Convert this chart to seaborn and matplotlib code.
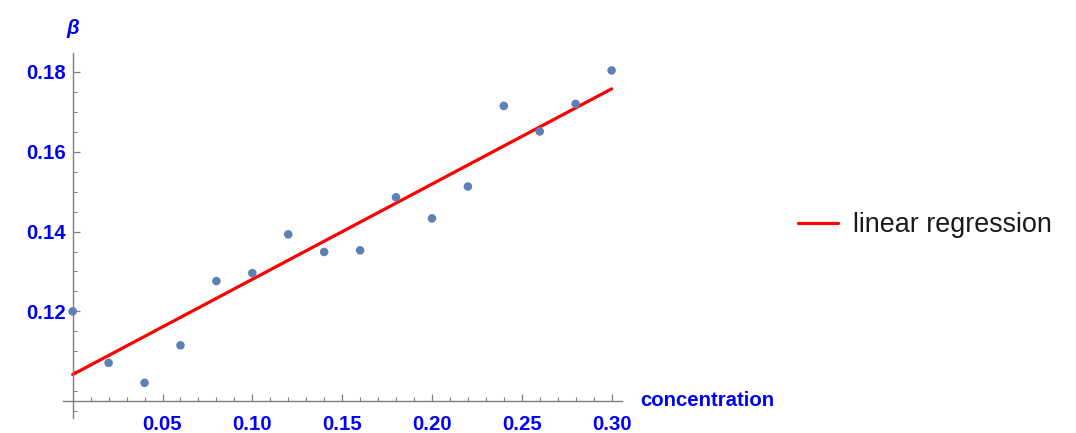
import numpy as np
import pandas as pd
import matplotlib
matplotlib.use("Agg")
import matplotlib.pyplot as plt
from matplotlib.ticker import MultipleLocator, FixedLocator, NullFormatter
import seaborn as sns

# ── data ─────────────────────────────────────────────────────────────────────
concentration = [0.00, 0.02, 0.04, 0.06, 0.08, 0.10, 0.12, 0.14,
                 0.16, 0.18, 0.20, 0.22, 0.24, 0.26, 0.28, 0.30]
beta = [0.1200, 0.1071, 0.1021, 0.1115, 0.1276, 0.1296, 0.1393, 0.1349,
        0.1353, 0.1486, 0.1433, 0.1513, 0.1715, 0.1651, 0.1720, 0.1804]
x_major = [0.05, 0.10, 0.15, 0.20, 0.25, 0.30]
y_major = [0.12, 0.14, 0.16, 0.18]

df = pd.DataFrame({"concentration": concentration, "beta": beta})

sns.set_style("white")
plt.rcParams["font.family"] = ["Liberation Sans", "DejaVu Sans"]

W, H = 1076, 433
fig = plt.figure(figsize=(W / 100, H / 100), dpi=100)
ax = fig.add_axes([63 / W, 1 - 418 / H, (622 - 63) / W, (418 - 53) / H])

point_col = "#5E81B5"
axis_col = "#7f7f7f"
blue = "#0000ff"

sns.scatterplot(data=df, x="concentration", y="beta", color=point_col,
                s=38, edgecolor="none", ax=ax, zorder=3, clip_on=False)
sns.regplot(data=df, x="concentration", y="beta", scatter=False, ci=None,
            color="red", label="linear regression", line_kws={"lw": 2.3},
            ax=ax)

ax.set_xlim(-0.0054, 0.3058)
ax.set_ylim(0.09328, 0.18476)
ax.set_xlabel("")
ax.set_ylabel("")

# Mathematica-like axes crossing
for s in ["top", "right"]:
    ax.spines[s].set_visible(False)
ax.spines["left"].set_position(("data", 0.0))
ax.spines["bottom"].set_position(("data", 0.09754))
for s in ["left", "bottom"]:
    ax.spines[s].set_color(axis_col)
    ax.spines[s].set_linewidth(1.0)

ax.xaxis.set_major_locator(FixedLocator(x_major))
ax.xaxis.set_minor_locator(MultipleLocator(0.01))
ax.yaxis.set_major_locator(FixedLocator(y_major))
ax.yaxis.set_minor_locator(MultipleLocator(0.005))
ax.xaxis.set_minor_formatter(NullFormatter())
ax.yaxis.set_minor_formatter(NullFormatter())
ax.set_xticklabels([f"{v:.2f}" for v in x_major])
ax.set_yticklabels([f"{v:.2f}" for v in y_major])

ax.tick_params(which="both", bottom=True, left=True, direction="in",
               color=axis_col)
ax.tick_params(which="major", length=5, width=0.9,
               labelcolor=blue, labelsize=14.7)
ax.tick_params(which="minor", length=3, width=0.8)
ax.tick_params(axis="x", which="major", pad=10)
ax.tick_params(axis="y", which="major", pad=5)
for lab in ax.get_xticklabels() + ax.get_yticklabels():
    lab.set_fontweight("bold")

fig.text(640 / W, 1 - 401 / H, "concentration", color=blue, fontsize=14.7,
         fontweight="bold", ha="left", va="center")
fig.text(73 / W, 1 - 28 / H, "β", color=blue, fontsize=14.7,
         fontweight="bold", fontstyle="italic", ha="center", va="center")

handles, labels = ax.get_legend_handles_labels()
fig.legend(handles, labels, loc="center left",
           bbox_to_anchor=(798 / W, 1 - 225 / H), frameon=False,
           fontsize=19.4, borderpad=0, borderaxespad=0,
           handlelength=1.5, handletextpad=0.55, labelcolor="#1a1a1a")

fig.savefig("out.png", dpi=100)
